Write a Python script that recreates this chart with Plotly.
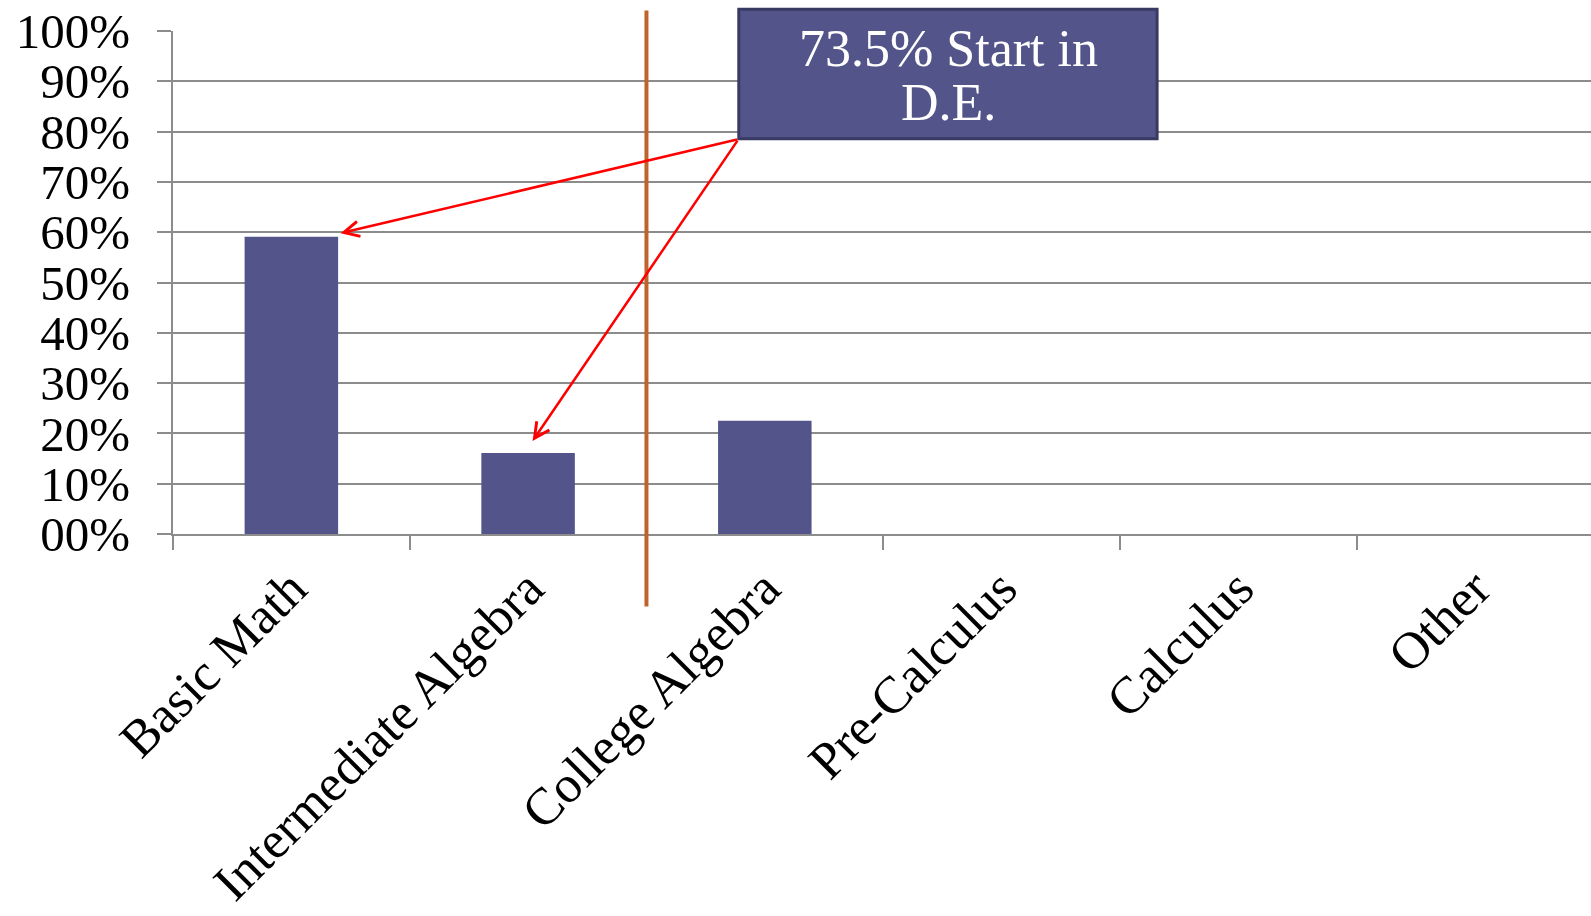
import plotly.graph_objects as go

# ---- data ----
categories = ["Basic Math", "Intermediate Algebra", "College Algebra",
              "Pre-Calculus", "Calculus", "Other"]
values = [0.591, 0.161, 0.225, 0.0, 0.0, 0.0]
y_tickvals = [0.0, 0.1, 0.2, 0.3, 0.4, 0.5, 0.6, 0.7, 0.8, 0.9, 1.0]
y_ticktext = ["00%", "10%", "20%", "30%", "40%", "50%", "60%", "70%", "80%", "90%", "100%"]
callout_lines = ["73.5% Start in", "D.E."]
divider_x = 1.5
arrow_tail_x = 1.889
arrow_tail_y = 0.785
arrow_tips_x = [0.208, 1.019]
arrow_tips_y = [0.598, 0.185]

BAR = "#53548A"
GRID = "#8C8C8C"
FONT = "Liberation Serif"

fig = go.Figure()
fig.add_trace(go.Bar(x=categories, y=values, marker=dict(color=BAR, line=dict(width=0)),
                     width=0.395, hoverinfo="skip"))

fig.update_layout(
    width=1591, height=916,
    margin=dict(l=173, r=0, t=31, b=382, autoexpand=False),
    paper_bgcolor="white", plot_bgcolor="white",
    showlegend=False,
    font=dict(family=FONT, color="black"),
    xaxis=dict(type="category", range=[-0.5, 5.49], tickson="boundaries", automargin=False,
               ticks="outside", ticklen=14, tickwidth=2, tickcolor=GRID,
               showline=True, linecolor=GRID, linewidth=2, showgrid=False,
               tickangle=-45, ticklabelstandoff=1,
               tickfont=dict(family=FONT, size=52, color="black")),
    yaxis=dict(range=[0, 1.0], tickvals=y_tickvals, ticktext=y_ticktext, automargin=False,
               ticks="outside", ticklen=14, tickwidth=2, tickcolor=GRID,
               showline=True, linecolor=GRID, linewidth=2,
               showgrid=True, gridcolor=GRID, gridwidth=2, zeroline=False,
               ticklabelstandoff=17,
               tickfont=dict(family=FONT, size=49, color="black")),
)

fig.add_shape(type="line", xref="x", yref="paper", x0=divider_x, x1=divider_x,
              y0=-0.144, y1=1.041, line=dict(color="#C0622B", width=4), layer="above")
fig.add_shape(type="rect", xref="paper", yref="paper", x0=0.399, x1=0.694, y0=0.786, y1=1.043,
              fillcolor=BAR, line=dict(color="#393A63", width=3), layer="above")
for txt, yy in zip(callout_lines, [0.966, 0.857]):
    fig.add_annotation(xref="paper", yref="paper", x=0.5466, y=yy, text=txt, showarrow=False,
                       xanchor="center", yanchor="middle",
                       font=dict(family=FONT, size=52, color="white"))

for tx, ty in zip(arrow_tips_x, arrow_tips_y):
    fig.add_annotation(xref="x", yref="y", x=tx, y=ty, axref="x", ayref="y",
                       ax=arrow_tail_x, ay=arrow_tail_y, text="", showarrow=True,
                       arrowhead=5, arrowsize=1.2, arrowwidth=2.5, arrowcolor="#FF0000",
                       standoff=0, startstandoff=0)

fig.write_html("out.html")
